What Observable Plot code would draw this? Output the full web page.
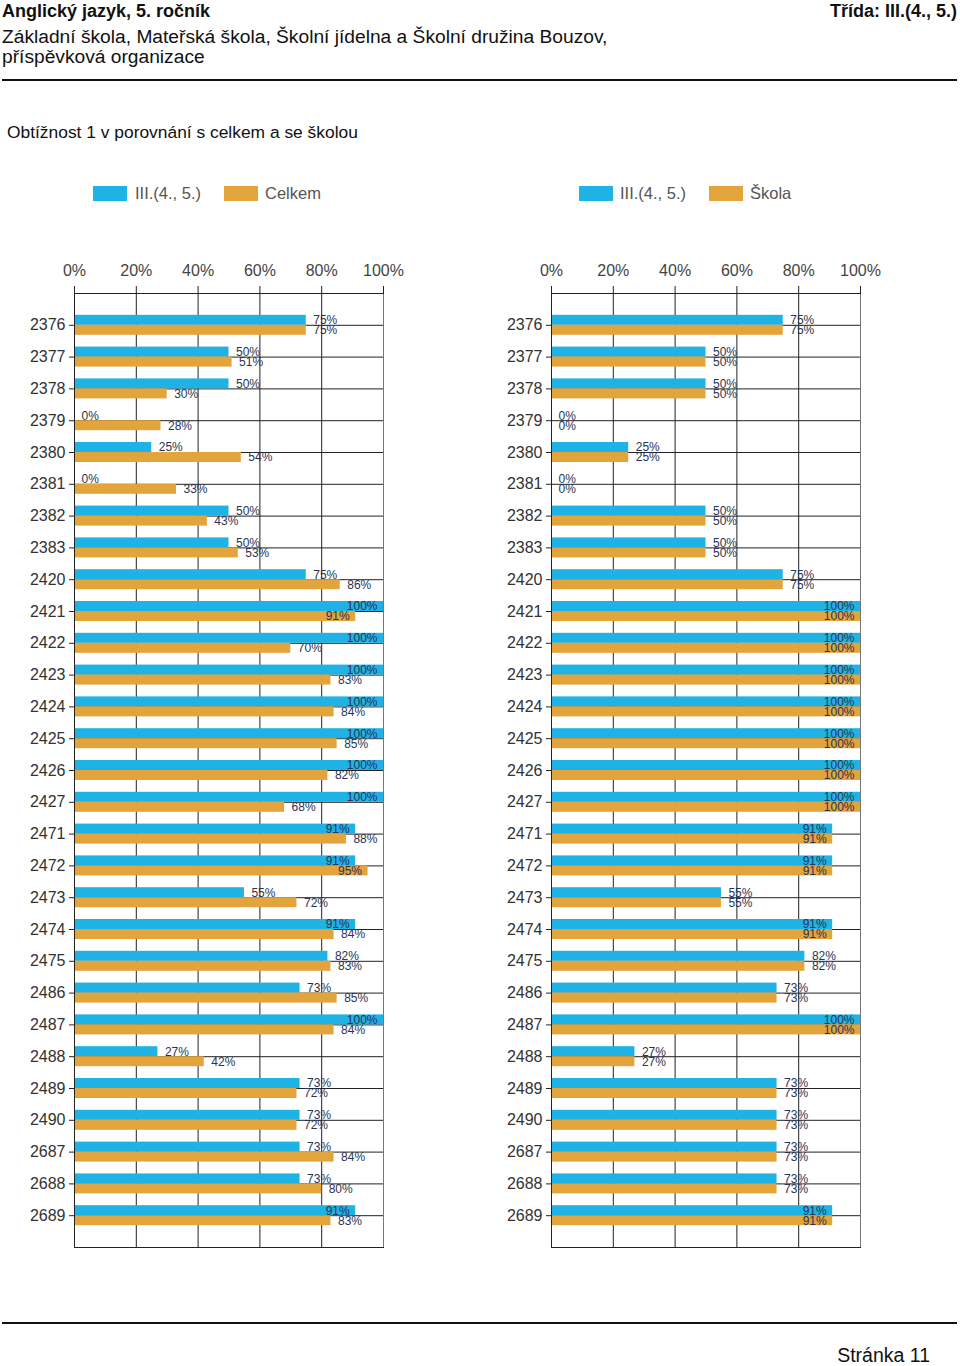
<!DOCTYPE html>
<html><head><meta charset="utf-8">
<script src="https://cdn.jsdelivr.net/npm/d3@7"></script>
<script src="https://cdn.jsdelivr.net/npm/@observablehq/plot@0.6"></script>
<style>
body{margin:0;background:#fff;font-family:"Liberation Sans",Arial,sans-serif;}
#page{position:relative;width:960px;height:1366px;overflow:hidden;background:#fff;}
.abs{position:absolute;white-space:nowrap;}
.sw{position:absolute;width:34px;height:15px;}
.lg{position:absolute;font-size:16.5px;line-height:18px;color:#555;white-space:nowrap;}
</style></head><body><div id="page">
<div class="abs" style="left:2px;top:1px;font-size:18px;line-height:20px;font-weight:bold;color:#111;">Anglický jazyk, 5. ročník</div>
<div class="abs" style="right:3px;top:1px;font-size:18px;line-height:20px;font-weight:bold;color:#111;">Třída: III.(4., 5.)</div>
<div class="abs" style="left:2px;top:27px;font-size:19.2px;line-height:20px;color:#111;">Základní škola, Mateřská škola, Školní jídelna a Školní družina Bouzov,<br>příspěvková organizace</div>
<div class="abs" style="left:2px;top:79px;width:955px;height:2px;background:#111;"></div>
<div class="abs" style="left:7px;top:122px;font-size:17.4px;line-height:20px;color:#111;">Obtížnost 1 v porovnání s celkem a se školou</div>
<div id="legendL"></div><div id="legendR"></div>
<div id="chartL" class="abs" style="left:0px;top:240px;"></div>
<div id="chartR" class="abs" style="left:480px;top:240px;"></div>
<div class="abs" style="left:2px;top:1322px;width:955px;height:2px;background:#111;"></div>
<div class="abs" style="right:30px;top:1346px;font-size:19.5px;line-height:19px;color:#111;">Stránka 11</div>
</div>
<script>
const questions = ["2376","2377","2378","2379","2380","2381","2382","2383","2420","2421","2422","2423","2424","2425","2426","2427","2471","2472","2473","2474","2475","2486","2487","2488","2489","2490","2687","2688","2689"];
const classValues = [75,50,50,0,25,0,50,50,75,100,100,100,100,100,100,100,91,91,55,91,82,73,100,27,73,73,73,73,91];
const totalValues = [75,51,30,28,54,33,43,53,86,91,70,83,84,85,82,68,88,95,72,84,83,85,84,42,72,72,84,80,83];
const schoolValues = [75,50,50,0,25,0,50,50,75,100,100,100,100,100,100,100,91,91,55,91,82,73,100,27,73,73,73,73,91];
const classLabel = "III.(4., 5.)";
const totalLabel = "Celkem";
const schoolLabel = "Škola";
const xTicks = [0,20,40,60,80,100];
const colors = ["#1fb2e4","#e3a43c"];

function legend(id, names, swX, txX){
  const el = document.getElementById(id);
  names.forEach((n,i)=>{
    const s = document.createElement("div"); s.className="sw";
    s.style.left = swX[i]+"px"; s.style.top="186px"; s.style.background=colors[i];
    const t = document.createElement("div"); t.className="lg";
    t.style.left = txX[i]+"px"; t.style.top="184px"; t.textContent=n;
    el.appendChild(s); el.appendChild(t);
  });
}
legend("legendL",[classLabel,totalLabel],[93,224],[135,265]);
legend("legendR",[classLabel,schoolLabel],[579,709],[620,750]);

function chart(cmpValues, marginLeft, marginRight){
  const data = questions.map((q,i)=>({q, a:classValues[i], b:cmpValues[i]}));
  const inside = v => v >= 90;
  const lab = {fontSize:12, fill:"#2a3352"};
  return Plot.plot({
    width:480, height:1020, marginTop:53, marginBottom:13, marginLeft, marginRight,
    style:{fontFamily:"'Liberation Sans', Arial, sans-serif", background:"#fff", overflow:"visible"},
    x:{domain:[0,100]},
    y:{type:"band", domain:questions, paddingInner:0.371, paddingOuter:0.6855, round:false},
    marks:[
      Plot.gridX(xTicks.slice(1,-1), {stroke:"#222", strokeOpacity:1}),
      Plot.gridY({stroke:"#222", strokeOpacity:1}),
      Plot.barX(data, {y:"q", x:"a", fill:colors[0], insetBottom:10}),
      Plot.barX(data, {y:"q", x:"b", fill:colors[1], insetTop:10}),
      Plot.frame({stroke:"#222"}),
      Plot.ruleX([100], {stroke:"#777"}),
      Plot.axisX(xTicks, {anchor:"top", tickSize:8, tickPadding:10, tickFormat:d=>d+"%", fontSize:16, fill:"#444", stroke:"#222", label:null}),
      Plot.axisY({tickSize:5, tickPadding:4, fontSize:16, fill:"#333", stroke:"#222", label:null}),
      Plot.text(data.filter(d=>!inside(d.a)), {y:"q", x:"a", text:d=>d.a+"%", dy:-5, dx:7, textAnchor:"start", ...lab}),
      Plot.text(data.filter(d=>inside(d.a)), {y:"q", x:"a", text:d=>d.a+"%", dy:-5, dx:-6, textAnchor:"end", ...lab}),
      Plot.text(data.filter(d=>!inside(d.b)), {y:"q", x:"b", text:d=>d.b+"%", dy:5, dx:7, textAnchor:"start", ...lab}),
      Plot.text(data.filter(d=>inside(d.b)), {y:"q", x:"b", text:d=>d.b+"%", dy:5, dx:-6, textAnchor:"end", ...lab})
    ]
  });
}
document.getElementById("chartL").appendChild(chart(totalValues, 74, 97));
document.getElementById("chartR").appendChild(chart(schoolValues, 71, 100));
</script>
</body></html>
